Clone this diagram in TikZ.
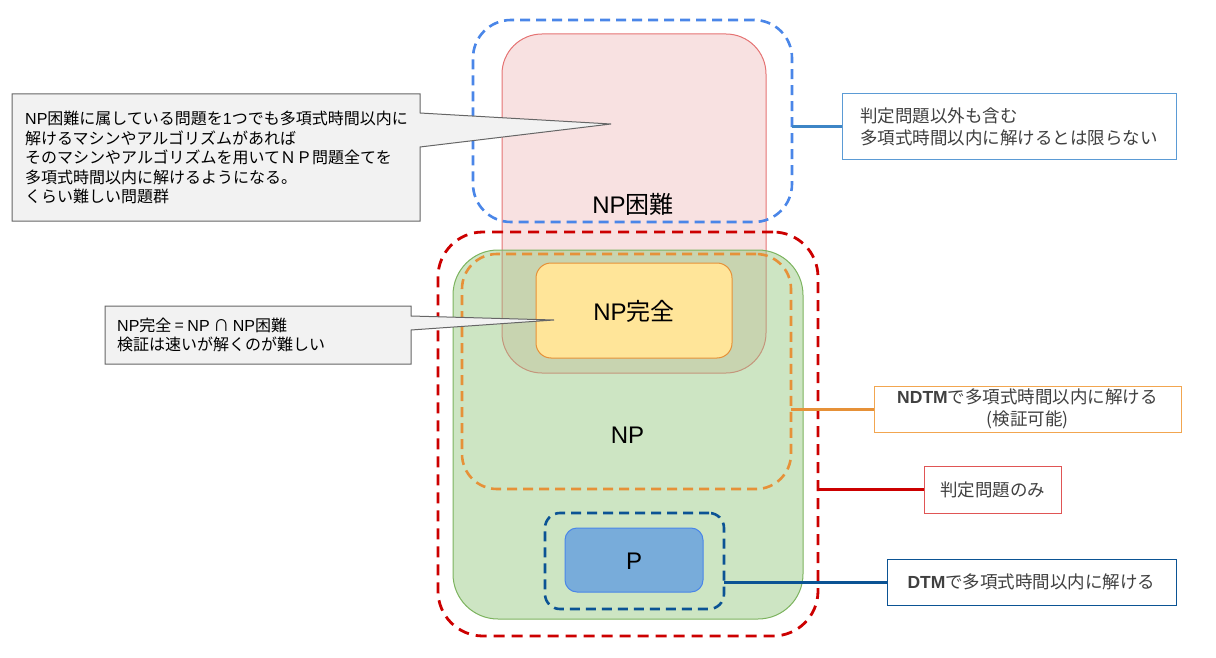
\documentclass[tikz,border=0pt]{standalone}
\usepackage{fontspec}
\setmainfont{Noto Sans CJK JP}
\newfontfamily\lat{Liberation Sans}
\usetikzlibrary{calc}
\definecolor{pinkF}{HTML}{F8E1E1}
\definecolor{pinkD}{HTML}{E57373}
\definecolor{pinkOv}{HTML}{C4967C}
\definecolor{ovl}{HTML}{C8D4B0}
\definecolor{greenF}{HTML}{CDE5C3}
\definecolor{greenD}{HTML}{7CB35E}
\definecolor{yellowF}{HTML}{FFE599}
\definecolor{orangeD}{HTML}{E69138}
\definecolor{orangeL}{HTML}{F2A650}
\definecolor{redD}{HTML}{CC0000}
\definecolor{redL}{HTML}{E05555}
\definecolor{blueD}{HTML}{4A86E8}
\definecolor{blueC}{HTML}{3D85C6}
\definecolor{blueL}{HTML}{5B9BD5}
\definecolor{navy}{HTML}{0B5394}
\definecolor{pF}{HTML}{78ACDA}
\definecolor{calloutF}{HTML}{F2F2F2}
\definecolor{calloutD}{HTML}{666666}
\definecolor{txt}{HTML}{404040}
\begin{document}
\begin{tikzpicture}[x=1pt,y=-1pt,
  region/.style={inner sep=0pt, outer sep=0pt},
  dashreg/.style={region, draw, line width=2.6pt, dash pattern=on 10pt off 6pt},
  biglabel/.style={font=\fontsize{24}{28}\selectfont, inner sep=0pt},
  legendbox/.style={draw, fill=white, line width=1pt, text=txt, align=center,
    font=\fontsize{17.5}{21.5}\selectfont, inner sep=0pt},
  legendline/.style={line width=3pt},
  callout/.style={fill=calloutF, draw=calloutD, line width=1pt},
  ctext/.style={font=\fontsize{16}{19.5}\selectfont, align=left, inner sep=0pt, anchor=west}
]
\useasboundingbox (0,0) rectangle (1216,658);

% NP-hard region
\node[region, fill=pinkF, draw=pinkD, line width=1pt, rounded corners=40pt,
  minimum width=264pt, minimum height=339pt] (hard) at (634,203.5) {};
% NP region
\node[region, fill=greenF, rounded corners=45pt,
  minimum width=350pt, minimum height=369pt] (np) at (628,434.5) {};
% overlap NP and NP-hard
\begin{scope}
  \clip[rounded corners=45pt] (np.north west) rectangle (np.south east);
  \fill[ovl, rounded corners=40pt] (hard.north west) rectangle (hard.south east);
  \draw[pinkOv, line width=1pt, rounded corners=40pt] (hard.north west) rectangle (hard.south east);
\end{scope}
\draw[greenD, line width=1pt, rounded corners=45pt] (np.north west) rectangle (np.south east);

% NP-complete
\node[region, fill=yellowF, draw=orangeD, line width=1pt, rounded corners=15pt,
  minimum width=196pt, minimum height=95pt] (npc) at (634,310.5) {};
% P
\node[region, fill=pF, draw=blueD, line width=1pt, rounded corners=12pt,
  minimum width=138pt, minimum height=64pt] (p) at (634,560) {};

% dashed boundaries
\node[dashreg, draw=blueD, rounded corners=38pt,
  minimum width=319pt, minimum height=202pt] (bd) at (632.5,121) {};
\node[dashreg, draw=orangeD, rounded corners=35pt,
  minimum width=329pt, minimum height=235pt] (od) at (626.5,371.5) {};
\node[dashreg, draw=redD, line width=2.8pt, dash pattern=on 11pt off 7pt, rounded corners=45pt,
  minimum width=380pt, minimum height=404pt] (rd) at (628,434) {};
\node[dashreg, draw=navy, rounded corners=15pt,
  minimum width=179pt, minimum height=96pt] (db) at (634.5,561) {};

% labels
\node[biglabel] (lhard) at (633,204) {{\lat NP}困難};
\node[biglabel] (lnpc) at (634,311) {{\lat NP}完全};
\node[biglabel] (lnp) at (627.5,435) {\lat NP};
\node[biglabel] (lp) at (634,561) {\lat P};

% legend boxes
\node[legendbox, draw=blueL, minimum width=334pt, minimum height=66pt, align=left] (lb) at (1009,127)
  {判定問題以外も含む\\多項式時間以内に解けるとは限らない};
\node[legendbox, draw=orangeL, minimum width=307pt, minimum height=46pt] (lo) at (1027.5,409)
  {{\lat\bfseries NDTM}で多項式時間以内に解ける\\({\lat}検証可能)};
\node[legendbox, draw=redL, minimum width=137pt, minimum height=47pt] (lr) at (992.5,489.5)
  {判定問題のみ};
\node[legendbox, draw=navy, minimum width=289pt, minimum height=46pt] (ld) at (1031.5,582)
  {{\lat\bfseries DTM}で多項式時間以内に解ける};

% legend connectors
\draw[legendline, blueC] (bd.east |- lb.west) -- (lb.west);
\draw[legendline, orangeD] (od.east |- lo.west) -- (lo.west);
\draw[legendline, redD] (rd.east |- lr.west) -- (lr.west);
\draw[legendline, navy] (db.east |- ld.west) -- (ld.west);

% callout 1
\coordinate (tip1) at (611,124);
\draw[callout] (12,94) -- (420,94) -- (420,113) -- (tip1) -- (420,147) -- (420,221) -- (12,221) -- cycle;
\node[ctext] (c1) at (25,157.5)
  {{\lat NP}困難に属している問題を{\lat 1}つでも多項式時間以内に\\
   解けるマシンやアルゴリズムがあれば\\
   そのマシンやアルゴリズムを用いてＮＰ問題全てを\\
   多項式時間以内に解けるようになる。\\
   くらい難しい問題群};

% callout 2
\coordinate (tip2) at (554,320);
\draw[callout] (105,306) -- (411,306) -- (411,316) -- (tip2) -- (411,330) -- (411,364) -- (105,364) -- cycle;
\node[ctext] (c2) at (117,335)
  {{\lat NP}完全 = {\lat NP} ∩ {\lat NP}困難\\
   検証は速いが解くのが難しい};
\end{tikzpicture}
\end{document}
